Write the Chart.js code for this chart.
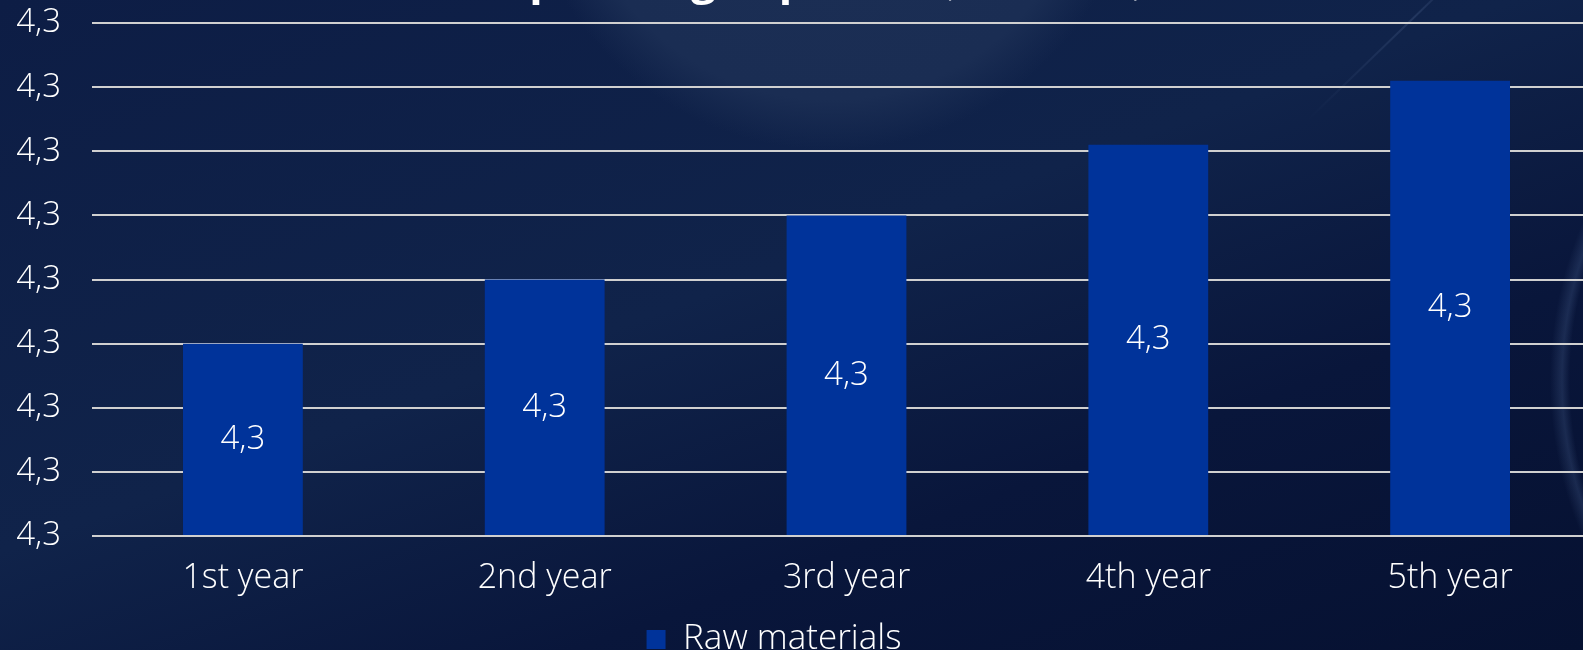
<!DOCTYPE html>
<html>
<head>
<meta charset="utf-8">
<script src="https://cdn.jsdelivr.net/npm/chart.js@4.4.1/dist/chart.umd.min.js"></script>
<style>
  html, body {
    margin: 0;
    padding: 0;
    width: 1583px;
    height: 650px;
    overflow: hidden;
  }
  body {
    position: relative;
    background:
      radial-gradient(circle at 830px -160px, #1c2f55 0, #1a2d53 260px, rgba(26,45,83,0) 310px),
      radial-gradient(circle at 1950px 380px, rgba(20,38,75,0) 0, rgba(20,38,75,0) 380px, rgba(70,95,140,0.3) 388px, rgba(20,38,75,0) 400px),
      linear-gradient(160deg, #0d1d45 0%, #10234a 45%, #09163b 70%, #061131 100%);
  }
  #streak {
    position: absolute;
    left: 1472px;
    top: -40px;
    width: 2px;
    height: 230px;
    transform: rotate(46deg);
    transform-origin: top left;
    background: linear-gradient(180deg, rgba(120,145,190,0) 0%, rgba(120,145,190,0.18) 35%, rgba(120,145,190,0) 100%);
  }
  #wrap {
    position: absolute;
    left: -53px;
    top: -80px;
    width: 1654px;
    height: 747px;
  }
</style>
</head>
<body>
<div id="streak"></div>
<div id="wrap"><canvas id="chart1"></canvas></div>
<script>
// data
var categories = ['1st year', '2nd year', '3rd year', '4th year', '5th year'];
var rawMaterials = [3, 4, 5, 6.1, 7.1];
var barLabels = ['4,3', '4,3', '4,3', '4,3', '4,3'];
var yTickLabels = ['4,3', '4,3', '4,3', '4,3', '4,3', '4,3', '4,3', '4,3', '4,3'];
var titleMain = 'Operating expenses';
var titleSub = ' (in millions)';

Chart.defaults.font.family = "'Open Sans', sans-serif";
Chart.defaults.font.weight = 300;
Chart.defaults.color = '#ffffff';

// white value labels in the middle of each bar
var barValues = {
    id: 'barValues',
    afterDatasetsDraw: function(chart) {
        var ctx = chart.ctx;
        var meta = chart.getDatasetMeta(0);
        ctx.save();
        ctx.fillStyle = '#ffffff';
        ctx.font = "300 33px 'Open Sans', sans-serif";
        ctx.textAlign = 'center';
        ctx.textBaseline = 'middle';
        meta.data.forEach(function(bar, i) {
            ctx.fillText(barLabels[i], bar.x, (bar.y + bar.base) / 2);
        });
        ctx.restore();
    }
};

// title, mostly above the visible area
var splitTitle = {
    id: 'splitTitle',
    afterDraw: function(chart) {
        var ctx = chart.ctx;
        ctx.save();
        ctx.fillStyle = '#ffffff';
        ctx.textBaseline = 'alphabetic';
        ctx.font = "bold 44px 'Open Sans', sans-serif";
        var w1 = ctx.measureText(titleMain).width;
        ctx.font = "300 40px 'Open Sans', sans-serif";
        var w2 = ctx.measureText(titleSub).width;
        var x = 872 - (w1 + w2) / 2;
        ctx.font = "bold 44px 'Open Sans', sans-serif";
        ctx.fillText(titleMain, x, 74);
        ctx.font = "300 40px 'Open Sans', sans-serif";
        ctx.fillText(titleSub, x + w1, 74);
        ctx.restore();
    }
};

var ctx = document.getElementById('chart1').getContext('2d');
var myChart = new Chart(ctx, {
    type: 'bar',
    data: {
        labels: categories,
        datasets: [{
            label: 'Raw materials',
            data: rawMaterials,
            backgroundColor: '#00339a',
            borderWidth: 0,
            barPercentage: 0.397,
            categoryPercentage: 1
        }]
    },
    options: {
        responsive: true,
        maintainAspectRatio: false,
        animation: false,
        layout: {
            padding: { top: 103, left: 0, right: 0, bottom: 0 }
        },
        plugins: {
            tooltip: { enabled: false },
            legend: {
                position: 'bottom',
                labels: {
                    color: '#ffffff',
                    boxWidth: 19,
                    boxHeight: 19,
                    padding: 10,
                    font: { size: 35, weight: 300 }
                }
            }
        },
        scales: {
            x: {
                grid: { display: false },
                border: { display: false },
                ticks: {
                    color: '#ffffff',
                    padding: 14,
                    maxRotation: 0,
                    font: { size: 34, weight: 300 }
                },
                afterFit: function(scale) { scale.height = 76; }
            },
            y: {
                min: 0,
                max: 8,
                border: { display: false },
                grid: {
                    color: '#d0d0d0',
                    lineWidth: 2,
                    drawTicks: false
                },
                ticks: {
                    stepSize: 1,
                    color: '#ffffff',
                    padding: 31,
                    font: { size: 33, weight: 300 },
                    callback: function(value, index) {
                        return yTickLabels[index];
                    }
                },
                afterFit: function(scale) { scale.width = 145; }
            }
        }
    },
    plugins: [barValues, splitTitle]
});
</script>
</body>
</html>
